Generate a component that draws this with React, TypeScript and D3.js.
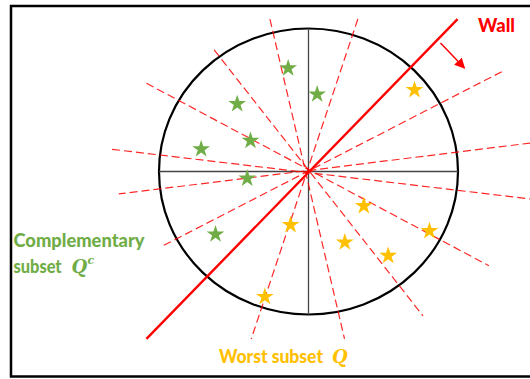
import React from 'react';
import * as d3 from 'd3';

// Everything is placed in "unit circle" coordinates: the drawn circle is radius 1
const W = 530;
const H = 379;

type Pt = [number, number];

// dashed red lines through the centre (two ends each)
const dashedLines: Array<{ from: Pt; to: Pt }> = [
  { from: [-0.258, 1.066], to: [0.241, -1.171] },
  { from: [0.330, 1.066], to: [-0.383, -1.171] },
  { from: [-0.631, 0.850], to: [0.766, -1.010] },
  { from: [-1.084, 0.617], to: [1.207, -0.659] },
  { from: [1.293, 0.698], to: [-0.986, -0.526] },
  { from: [-1.314, 0.155], to: [1.485, -0.192] },
  { from: [1.485, 0.199], to: [-1.269, -0.157] },
];

// the solid red "wall" and its arrow
const wallLine: Pt[] = [[0.997, 1.066], [-1.084, -1.171]];
const wallArrow: Pt[] = [[0.883, 0.899], [1.043, 0.724]];

// green stars: complementary subset
const greenStars: Pt[] = [
  [-0.136, 0.722],
  [0.058, 0.540],
  [-0.477, 0.472],
  [-0.388, 0.215],
  [-0.718, 0.157],
  [-0.410, -0.048],
  [-0.622, -0.439],
];

// yellow stars: worst subset
const yellowStars: Pt[] = [
  [0.709, 0.570],
  [0.370, -0.241],
  [-0.120, -0.374],
  [0.809, -0.416],
  [0.243, -0.495],
  [0.533, -0.589],
  [-0.292, -0.876],
];

const GREEN = '#70AD47';
const YELLOW = '#FFC000';
const RED = '#FF0000';

const labelFont = "Lato, 'Open Sans', sans-serif";
const mathFont = "'DejaVu Serif', 'Liberation Serif', serif";

const App: React.FC = () => {
  const x = d3.scaleLinear().domain([-1, 1]).range([159, 458]);
  const y = d3.scaleLinear().domain([-1, 1]).range([314.5, 28.5]);

  const line = d3.line<Pt>().x((d) => x(d[0])).y((d) => y(d[1]));
  const star = d3.symbol().type(d3.symbolStar).size(98)();

  return (
    <svg
      width={W}
      height={H}
      style={{ position: 'absolute', left: 0, top: 0, background: '#fff' }}
    >
      <defs>
        <marker
          id="arrowHead"
          viewBox="0 0 10 10"
          refX="9"
          refY="5"
          markerWidth="7"
          markerHeight="7"
          markerUnits="strokeWidth"
          orient="auto"
        >
          <path d="M0,0 L10,5 L0,10 z" fill={RED} />
        </marker>
      </defs>

      {/* frame */}
      <rect x={11} y={6} width={540} height={370.5} fill="none" stroke="#000" strokeWidth={2.5} />

      {/* circle and its axes */}
      <ellipse
        cx={x(0)}
        cy={y(0)}
        rx={x(1) - x(0)}
        ry={y(-1) - y(0)}
        fill="none"
        stroke="#000"
        strokeWidth={2.2}
      />
      <path d={line([[-1, 0], [1, 0]]) || ''} stroke="#444" strokeWidth={1.3} />
      <path d={line([[0, 1], [0, -1]]) || ''} stroke="#444" strokeWidth={1.3} />

      {/* dashed directions */}
      {dashedLines.map((d, i) => (
        <path
          key={i}
          d={line([d.from, d.to]) || ''}
          stroke={RED}
          strokeOpacity={0.85}
          strokeWidth={1.2}
          strokeDasharray="8,4"
          fill="none"
        />
      ))}

      {/* wall */}
      <path d={line(wallLine) || ''} stroke={RED} strokeWidth={2.4} />
      <path
        d={line(wallArrow) || ''}
        stroke={RED}
        strokeWidth={1.5}
        markerEnd="url(#arrowHead)"
      />

      {/* stars */}
      {greenStars.map((d, i) => (
        <path key={`g${i}`} d={star || ''} fill={GREEN} transform={`translate(${x(d[0])},${y(d[1])})`} />
      ))}
      {yellowStars.map((d, i) => (
        <path key={`y${i}`} d={star || ''} fill={YELLOW} transform={`translate(${x(d[0])},${y(d[1])})`} />
      ))}

      {/* labels */}
      <text x={478} y={32} fill={RED} fontFamily={labelFont} fontWeight={900} fontSize={19}
        textLength={37} lengthAdjust="spacingAndGlyphs">Wall</text>

      <text x={13.5} y={247} fill={GREEN} fontFamily={labelFont} fontWeight={900} fontSize={18}
        textLength={131} lengthAdjust="spacingAndGlyphs">Complementary</text>
      <text x={13.5} y={273} fill={GREEN} fontFamily={labelFont} fontWeight={900} fontSize={18}
        textLength={48} lengthAdjust="spacingAndGlyphs">subset</text>
      <text x={71.5} y={273} fill={GREEN} fontFamily={mathFont} fontWeight={700} fontStyle="italic" fontSize={18}>
        Q
      </text>
      <text x={87.5} y={264} fill={GREEN} fontFamily={mathFont} fontWeight={700} fontStyle="italic" fontSize={11}>
        c
      </text>

      <text x={219} y={363} fill={YELLOW} fontFamily={labelFont} fontWeight={900} fontSize={18}
        textLength={104} lengthAdjust="spacingAndGlyphs">Worst subset</text>
      <text x={332} y={363} fill={YELLOW} fontFamily={mathFont} fontWeight={700} fontStyle="italic" fontSize={18}>
        Q
      </text>
    </svg>
  );
};

export default App;
